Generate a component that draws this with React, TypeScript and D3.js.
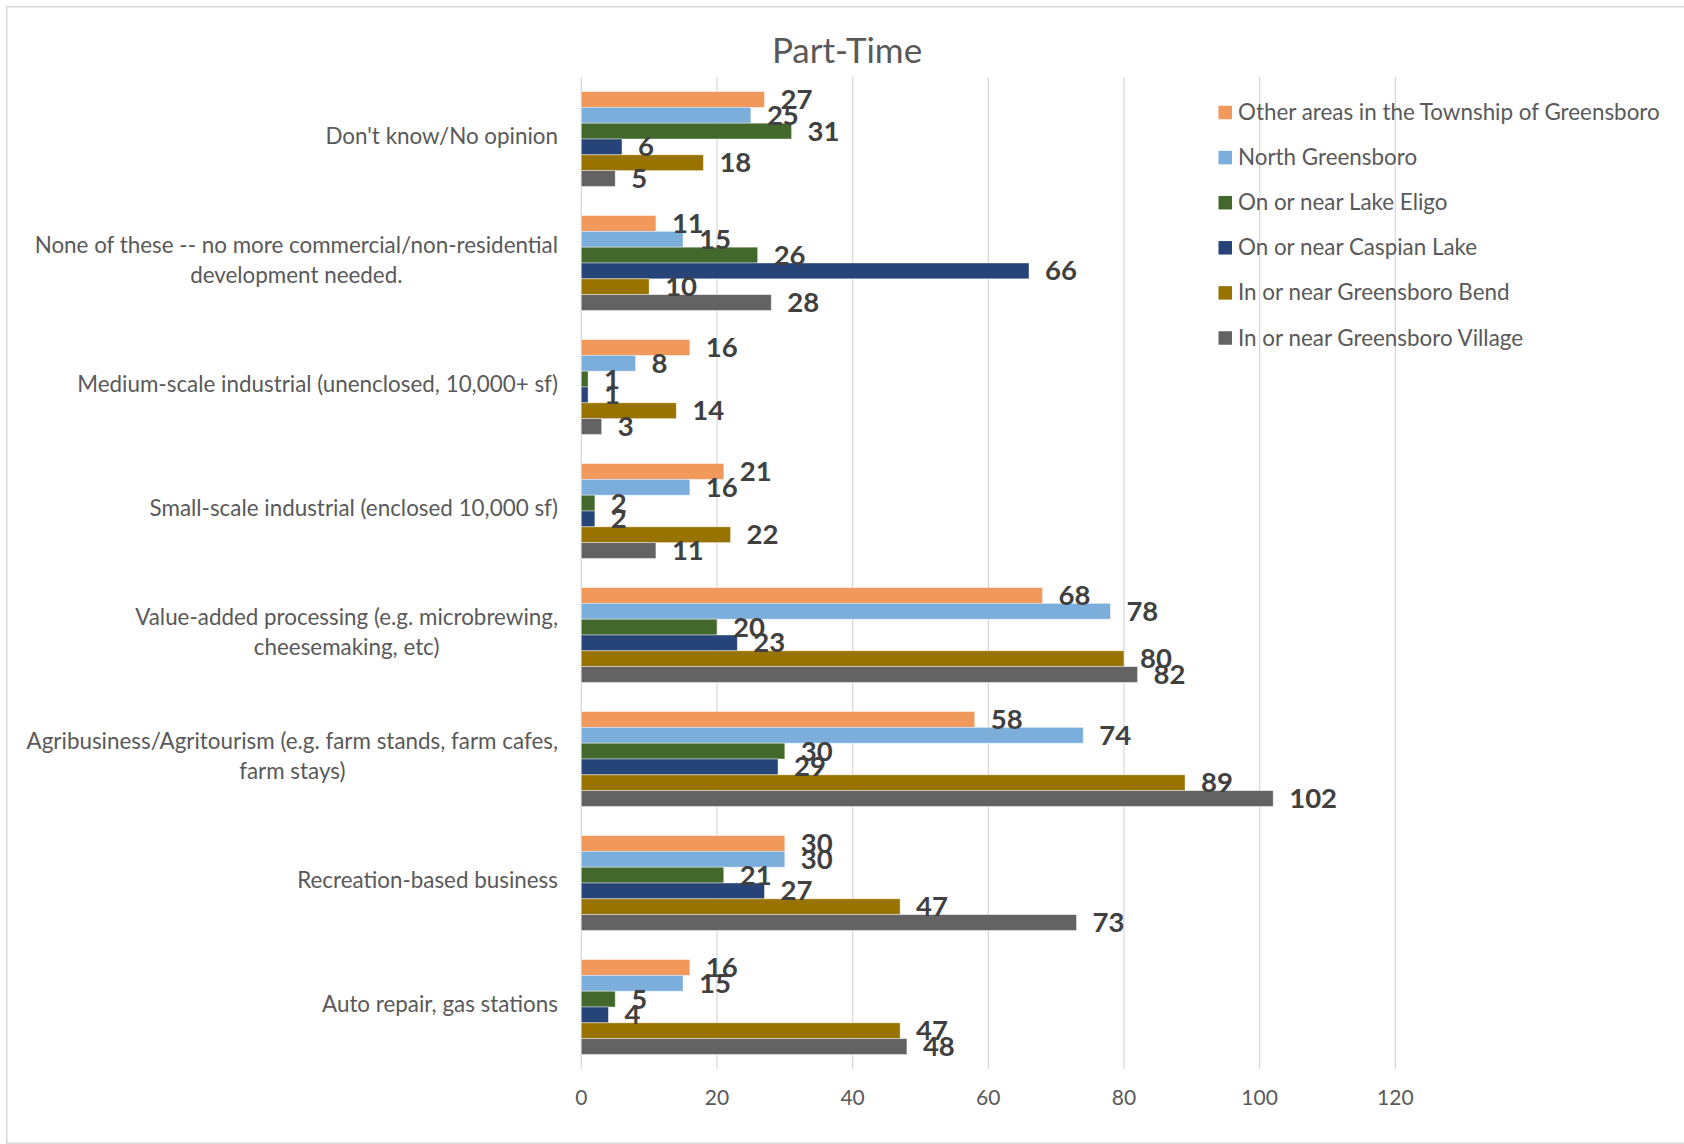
import React, { useEffect, useRef } from "react";
import * as d3 from "d3";

const title = "Part-Time";

const categories = [
  "Don't know/No opinion",
  "None of these -- no more commercial/non-residential\ndevelopment needed.",
  "Medium-scale industrial (unenclosed, 10,000+ sf)",
  "Small-scale industrial (enclosed 10,000 sf)",
  "Value-added processing (e.g. microbrewing,\ncheesemaking, etc)",
  "Agribusiness/Agritourism (e.g. farm stands, farm cafes,\nfarm stays)",
  "Recreation-based business",
  "Auto repair, gas stations",
];

const seriesNames = [
  "Other areas in the Township of Greensboro",
  "North Greensboro",
  "On or near Lake Eligo",
  "On or near Caspian Lake",
  "In or near Greensboro Bend",
  "In or near Greensboro Village",
];

const seriesColors = ["#F1985B", "#7CAEDC", "#43682B", "#264478", "#997300", "#636363"];

const otherAreas = [27, 11, 16, 21, 68, 58, 30, 16];
const northGreensboro = [25, 15, 8, 16, 78, 74, 30, 15];
const lakeEligo = [31, 26, 1, 2, 20, 30, 21, 5];
const caspianLake = [6, 66, 1, 2, 23, 29, 27, 4];
const greensboroBend = [18, 10, 14, 22, 80, 89, 47, 47];
const greensboroVillage = [5, 28, 3, 11, 82, 102, 73, 48];

const seriesValues = [otherAreas, northGreensboro, lakeEligo, caspianLake, greensboroBend, greensboroVillage];

const xTicks = [0, 20, 40, 60, 80, 100, 120];

const W = 1684;
const H = 1144;
const FONT = "Lato, 'Open Sans', sans-serif";

export default function App() {
  const ref = useRef<SVGSVGElement | null>(null);

  useEffect(() => {
    const svg = d3.select(ref.current);
    svg.selectAll("*").remove();

    const plotLeft = 581.3;
    const plotRight = 1395.3;
    const plotTop = 77;
    const plotBottom = 1069;

    svg.append("rect").attr("x", 0).attr("y", 0).attr("width", W).attr("height", H).attr("fill", "#fff");
    svg
      .append("rect")
      .attr("x", 6.75)
      .attr("y", 6.75)
      .attr("width", W + 20)
      .attr("height", 1136.5)
      .attr("fill", "none")
      .attr("stroke", "#d9d9d9")
      .attr("stroke-width", 1.5);

    const x = d3.scaleLinear().domain([0, 120]).range([plotLeft, plotRight]);
    const y0 = d3.scaleBand<number>().domain(d3.range(categories.length)).range([plotTop, plotBottom]).padding(0);
    const y1 = d3
      .scaleBand<number>()
      .domain(d3.range(seriesNames.length))
      .range([0, y0.bandwidth()])
      .paddingInner(0)
      .paddingOuter(0.92);

    // gridlines
    svg
      .append("g")
      .selectAll("line")
      .data(xTicks)
      .join("line")
      .attr("x1", (d) => x(d))
      .attr("x2", (d) => x(d))
      .attr("y1", plotTop)
      .attr("y2", plotBottom)
      .attr("stroke", "#d9d9d9")
      .attr("stroke-width", 1.3);

    // tick labels
    svg
      .append("g")
      .selectAll("text")
      .data(xTicks)
      .join("text")
      .attr("x", (d) => x(d))
      .attr("y", 1096)
      .attr("text-anchor", "middle")
      .attr("dominant-baseline", "central")
      .attr("font-family", FONT)
      .attr("font-size", 21)
      .attr("fill", "#595959")
      .text((d) => String(d));

    // bars
    const groups = svg
      .append("g")
      .selectAll("g")
      .data(categories.map((_, i) => i))
      .join("g")
      .attr("transform", (i) => `translate(0,${y0(i)})`);

    groups
      .selectAll("rect")
      .data((i) => seriesValues.map((vals, s) => ({ s, v: vals[i] })))
      .join("rect")
      .attr("x", x(0))
      .attr("y", (d) => y1(d.s)!)
      .attr("width", (d) => x(d.v) - x(0))
      .attr("height", y1.bandwidth())
      .attr("fill", (d) => seriesColors[d.s])
      .attr("stroke", "#ffffff")
      .attr("stroke-opacity", 0.5)
      .attr("stroke-width", 0.8);

    groups
      .selectAll("text")
      .data((i) => seriesValues.map((vals, s) => ({ s, v: vals[i] })))
      .join("text")
      .attr("x", (d) => x(d.v) + 16)
      .attr("y", (d) => y1(d.s)! + y1.bandwidth() / 2 - 1)
      .attr("dominant-baseline", "central")
      .attr("font-family", FONT)
      .attr("font-weight", "bold")
      .attr("font-size", 27.5)
      .attr("fill", "#404040")
      .text((d) => String(d.v));

    // category labels
    const labelRight = 558;
    const lineGap = 29.5;
    categories.forEach((cat, i) => {
      const lines = cat.split("\n");
      const cy = y0(i)! + y0.bandwidth() / 2 - 3.5;
      const g = svg.append("g");
      const texts = lines.map((ln, k) =>
        g
          .append("text")
          .attr("y", cy + (k - (lines.length - 1) / 2) * lineGap)
          .attr("dominant-baseline", "central")
          .attr("text-anchor", "middle")
          .attr("font-family", FONT)
          .attr("font-size", 22.4)
          .attr("fill", "#595959")
          .text(ln)
      );
      const widths = texts.map((t) => (t.node() as SVGTextElement).getComputedTextLength());
      const maxW = d3.max(widths) || 0;
      texts.forEach((t) => t.attr("x", labelRight - maxW / 2));
    });

    // title
    svg
      .append("text")
      .attr("x", 847)
      .attr("y", 49)
      .attr("text-anchor", "middle")
      .attr("dominant-baseline", "central")
      .attr("font-family", FONT)
      .attr("font-size", 35)
      .attr("fill", "#595959")
      .text(title);

    // legend
    const legend = svg
      .append("g")
      .selectAll("g")
      .data(seriesNames.map((n, i) => ({ n, i })))
      .join("g")
      .attr("transform", (d) => `translate(1218.5,${112.5 + d.i * 45.1})`);
    legend
      .append("rect")
      .attr("x", 0)
      .attr("y", -6.75)
      .attr("width", 13.5)
      .attr("height", 13.5)
      .attr("fill", (d) => seriesColors[d.i]);
    legend
      .append("text")
      .attr("x", 19.5)
      .attr("y", -1)
      .attr("dominant-baseline", "central")
      .attr("font-family", FONT)
      .attr("font-size", 22.4)
      .attr("fill", "#595959")
      .text((d) => d.n);
  }, []);

  return (
    <svg
      ref={ref}
      width={W}
      height={H}
      style={{ position: "absolute", left: 0, top: 0, display: "block" }}
    />
  );
}
